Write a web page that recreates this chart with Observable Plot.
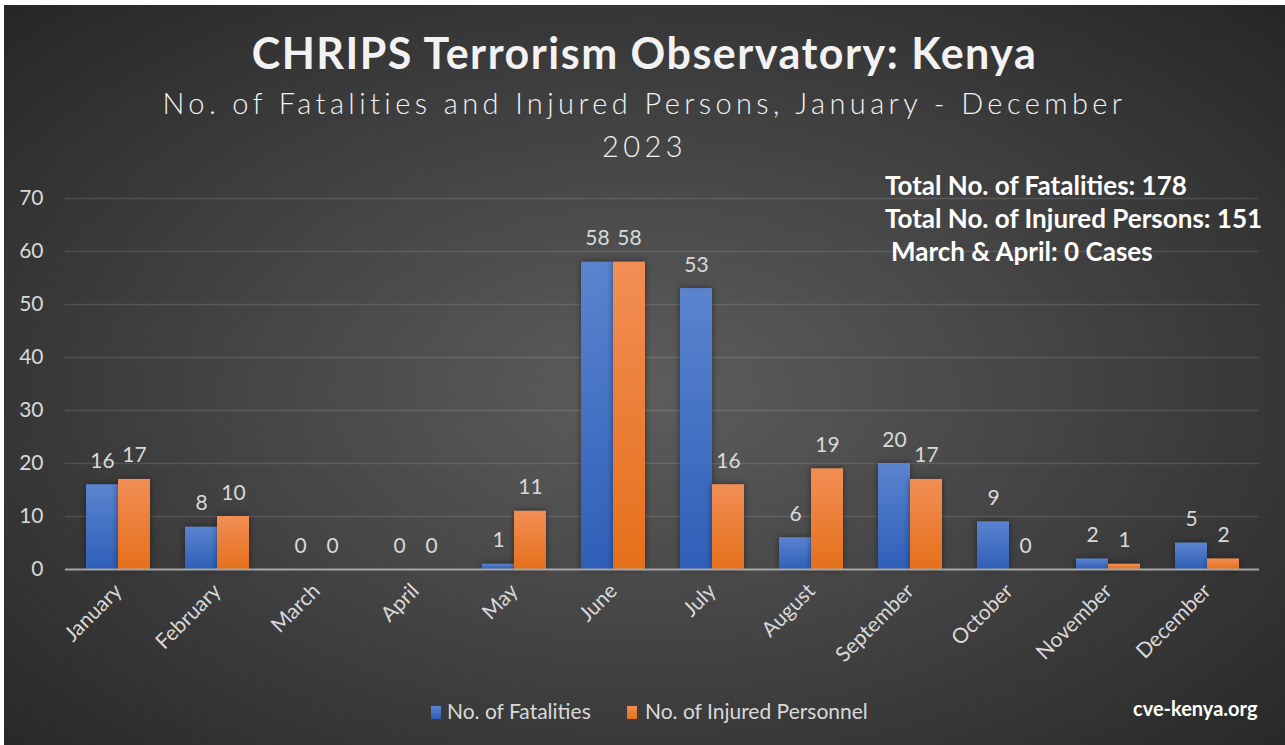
<!DOCTYPE html>
<html>
<head>
<meta charset="utf-8">
<script src="https://cdn.jsdelivr.net/npm/d3@7"></script>
<script src="https://cdn.jsdelivr.net/npm/@observablehq/plot@0.6"></script>
<style>
  html, body { margin: 0; padding: 0; background: #ffffff; }
  body { width: 1285px; height: 745px; position: relative; overflow: hidden; font-family: Lato, "Open Sans", sans-serif; }
  #bg { position: absolute; left: 4px; top: 5px; width: 1281px; height: 740px;
        background: radial-gradient(ellipse farthest-corner at 50% 52%, #5d5d5d 0%, #4a4a4a 35%, #262626 100%); }
  .layer { position: absolute; left: 0; top: 0; }
  .t { position: absolute; line-height: 1; white-space: pre; }
  #title { left: 4px; width: 1281px; text-align: center; top: 31px; font-size: 43px; font-weight: 700; color: #f2f2f2; letter-spacing: 1.5px; }
  .sub { left: 4px; width: 1281px; text-align: center; font-size: 29px; font-weight: 300; color: #f2f2f2; letter-spacing: 4.4px; }
  .note { font-size: 26px; font-weight: 700; color: #ffffff; }
  .leg { font-size: 21px; color: #d9d9d9; }
  .sw { position: absolute; width: 10px; height: 13px; }
  svg g[aria-label="bar"] rect { filter: drop-shadow(0px 0px 3px rgba(0,0,0,0.45)); }
</style>
</head>
<body>
<div id="bg"></div>
<div id="gridLayer" class="layer"></div>
<div id="barLayer" class="layer"></div>
<div id="axisLayer" class="layer"></div>
<div class="t" id="title">CHRIPS Terrorism Observatory: Kenya</div>
<div class="t sub" style="top:88px">No. of Fatalities and Injured Persons, January - December</div>
<div class="t sub" style="top:131px">2023</div>
<div class="t note" style="left:885px; top:172px">Total No. of Fatalities: 178</div>
<div class="t note" style="left:885px; top:205px">Total No. of Injured Persons: 151</div>
<div class="t note" style="left:891px; top:238px">March &amp; April: 0 Cases</div>
<div class="sw" style="left:431px; top:706px; background: linear-gradient(#5b84cf, #2f5fb8);"></div>
<div class="t leg" style="left:447px; top:700px">No. of Fatalities</div>
<div class="sw" style="left:627px; top:706px; background: linear-gradient(#f28e55, #e5701a);"></div>
<div class="t leg" style="left:645px; top:700px">No. of Injured Personnel</div>
<div class="t" style="left:1133px; top:698px; font-size:20px; font-weight:700; color:#ffffff;">cve-kenya.org</div>
<script>
const months = ["January","February","March","April","May","June","July","August","September","October","November","December"];
const seriesNames = ["No. of Fatalities", "No. of Injured Personnel"];
const fatalities = [16, 8, 0, 0, 1, 58, 53, 6, 20, 9, 2, 5];
const injured = [17, 10, 0, 0, 11, 58, 16, 19, 17, 0, 1, 2];
const yTicks = [0, 10, 20, 30, 40, 50, 60, 70];

const data = months.flatMap((m, i) => [
  {month: m, series: seriesNames[0], value: fatalities[i]},
  {month: m, series: seriesNames[1], value: injured[i]}
]);

const frame = {
  width: 1285,
  height: 745,
  marginLeft: 65,
  marginRight: 26,
  marginTop: 198,
  marginBottom: 176,
  style: {background: "transparent", fontFamily: "Lato, sans-serif", fontSize: "21px", color: "#d9d9d9", overflow: "visible"},
  y: {domain: [0, 70], axis: null}
};

// background: gridlines and y tick labels
const gridChart = Plot.plot({
  ...frame,
  marks: [
    Plot.ruleY(yTicks.filter(t => t > 0), {stroke: "#ffffff", strokeOpacity: 0.12, strokeWidth: 1.5}),
    Plot.text(yTicks, {y: d => d, text: d => String(d), frameAnchor: "left", textAnchor: "end", dx: -22, fill: "#d9d9d9"})
  ]
});

// grouped bars, value labels and month labels
const barChart = Plot.plot({
  ...frame,
  fx: {domain: months, paddingInner: 0.356, paddingOuter: 0.178, label: null, tickRotate: -45, tickSize: 0, tickPadding: 18},
  x: {domain: seriesNames, axis: null, paddingInner: 0, paddingOuter: 0},
  color: {domain: seriesNames, range: ["url(#gBlue)", "url(#gOrange)"]},
  marks: [
    Plot.barY(data, {fx: "month", x: "series", y: "value", fill: "series"}),
    Plot.text(data, {fx: "month", x: "series", y: "value", text: d => String(d.value), dy: -17, lineAnchor: "bottom", fill: "#d9d9d9"})
  ]
});

// baseline on top
const axisChart = Plot.plot({
  ...frame,
  marks: [Plot.ruleY([0], {stroke: "#a6a6a6", strokeWidth: 2})]
});

const defs = d3.select(barChart).insert("defs", ":first-child");
const grads = [["gBlue", "#5b84cf", "#2f5fb8"], ["gOrange", "#f28e55", "#e5701a"]];
for (const [id, c0, c1] of grads) {
  const g = defs.append("linearGradient").attr("id", id).attr("x1", 0).attr("y1", 0).attr("x2", 0).attr("y2", 1);
  g.append("stop").attr("offset", "0%").attr("stop-color", c0);
  g.append("stop").attr("offset", "100%").attr("stop-color", c1);
}
document.getElementById("gridLayer").appendChild(gridChart);
document.getElementById("barLayer").appendChild(barChart);
document.getElementById("axisLayer").appendChild(axisChart);
</script>
</body>
</html>
